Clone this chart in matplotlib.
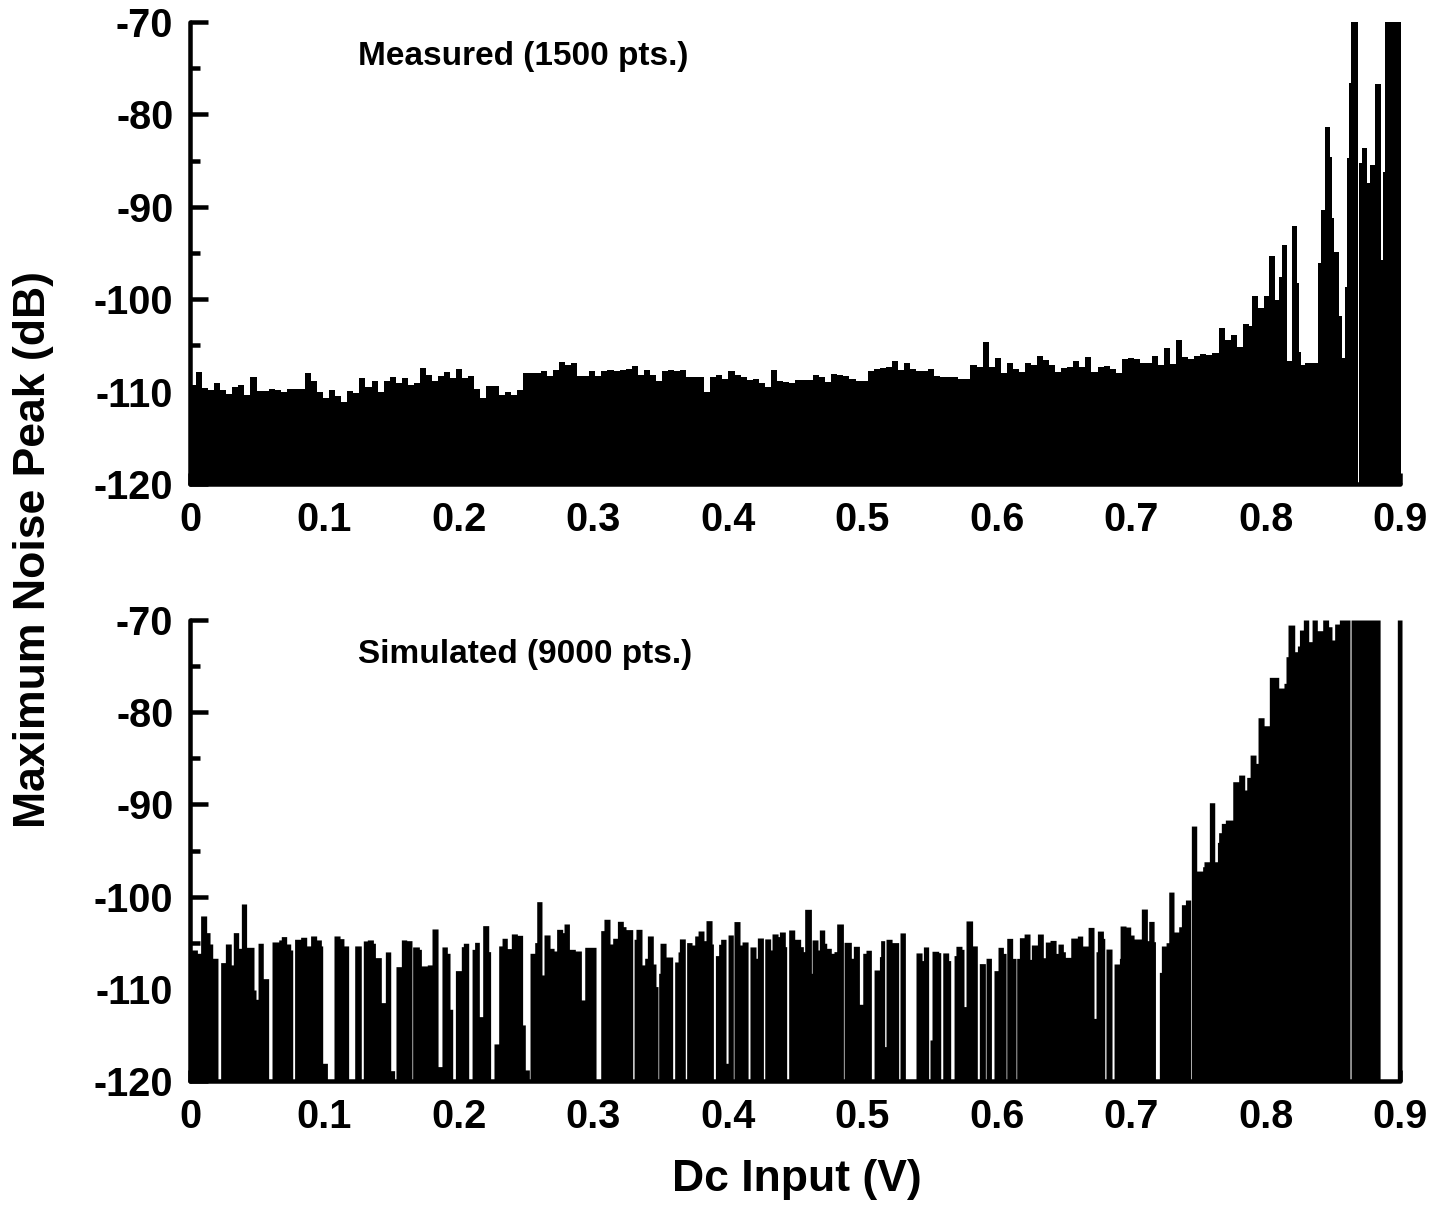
import numpy as np
import matplotlib
matplotlib.use('Agg')
import matplotlib.pyplot as plt
from matplotlib.ticker import MultipleLocator

plt.rcParams['font.family'] = ['Liberation Sans', 'DejaVu Sans']
plt.rcParams['font.weight'] = 'bold'

FLOOR = -120

x_ticks = [0, 0.1, 0.2, 0.3, 0.4, 0.5, 0.6, 0.7, 0.8, 0.9]
x_labels = ['0', '0.1', '0.2', '0.3', '0.4', '0.5', '0.6', '0.7', '0.8', '0.9']
y_ticks = [-120, -110, -100, -90, -80, -70]
y_labels = ['-120', '-110', '-100', '-90', '-80', '-70']

# measured peaks below 0.78 V, one every 4.5 mV
meas_step = 0.0045
meas_low = [
    -109.3, -107.9, -109.6, -109.8, -109.1, -109.8, -110.3, -109.5, -109.3, -110.4,
    -108.4, -109.9, -109.9, -109.7, -109.8, -110.0, -109.7, -109.7, -109.7, -108.0,
    -108.9, -110.0, -110.7, -109.8, -110.5, -111.1, -109.9, -110.2, -108.5, -109.5,
    -108.9, -110.0, -108.85, -108.4, -109.1, -108.5, -109.3, -109.1, -107.4, -108.2,
    -108.9, -108.3, -107.9, -108.5, -107.6, -108.5, -108.3, -109.7, -110.7, -109.4,
    -109.4, -110.4, -110.0, -110.4, -109.8, -108.0, -108.0, -108.0, -107.8, -108.3,
    -107.7, -106.8, -107.1, -106.9, -108.3, -108.3, -107.8, -108.3,
    -107.8, -107.65, -107.8, -107.65, -107.5, -107.2, -108.2, -107.65, -108.2, -108.8,
    -107.8, -107.65, -107.8, -107.65, -108.4, -108.4, -108.4, -110.0, -108.4, -108.2,
    -108.6, -107.8, -108.2, -108.4, -108.7, -108.6, -109.1, -109.5, -107.65, -108.9,
    -109.0, -109.1, -108.7, -108.7, -108.7, -108.2, -108.4, -109.0, -108.1, -108.2,
    -108.3, -108.6, -108.9, -108.8, -107.8, -107.5, -107.4, -107.3, -106.7, -107.65,
    -106.9, -107.5, -107.8, -107.8, -107.5, -108.3, -108.4, -108.4, -108.4, -108.6,
    -108.6, -107.15, -107.3, -104.6, -107.3, -106.4, -108.0, -106.9,
    -107.6, -107.9, -106.94, -107.1, -106.15, -106.58, -107.16, -107.84, -107.4, -107.3,
    -106.69, -107.3, -106.3, -107.84, -107.37, -107.23, -107.6, -108.02, -106.5, -106.36,
    -106.5, -106.94, -106.87, -106.2, -107.1, -105.28, -107.0, -104.4, -106.3, -106.5,
    -106.2, -105.93, -106.0, -105.8, -103.15, -104.4, -103.87, -105.14,
]

# measured peaks above 0.78 V
meas_high_x = [
    0.7835, 0.7880, 0.7899, 0.7944, 0.7989, 0.8028, 0.8073, 0.8098, 0.8123, 0.8162,
    0.8197, 0.8237, 0.8247, 0.8262, 0.8291, 0.8390, 0.8415, 0.8440, 0.8480, 0.8495,
    0.8509, 0.8549, 0.8569, 0.8589, 0.8604, 0.8624, 0.8638, 0.8687, 0.8693, 0.8718,
    0.8757, 0.8777, 0.8812, 0.8856, 0.8871, 0.8891, 0.9010,
]
meas_high = [
    -102.68, -102.9, -99.65, -100.9, -99.6, -95.3, -100.1, -97.56, -94.1, -106.65,
    -92.08, -98.28, -105.7, -107.1, -106.87, -96.1, -90.4, -81.4, -84.57, -91.25,
    -94.93, -101.8, -106.36, -98.64, -84.75, -76.64, -70.0, -120.0, -85.3, -83.67,
    -87.46, -85.47, -76.7, -95.76, -86.2, -70.0, -70.0,
]

# simulated peaks, start of each step and its level
sim_x_a = [
    0.0, 0.0055, 0.0079, 0.0124, 0.0149, 0.0169, 0.0208, 0.0228, 0.0263, 0.0307,
    0.0322, 0.0362, 0.0382, 0.0421, 0.0476, 0.0491, 0.0506, 0.0545, 0.0585, 0.0610,
    0.0660, 0.0679, 0.0719, 0.0749, 0.0764, 0.0778, 0.0823, 0.0868, 0.0897, 0.0942,
    0.0977, 0.0987, 0.1022, 0.1071, 0.1116, 0.1145, 0.1180, 0.1225, 0.1274, 0.1289,
    0.1319, 0.1364, 0.1379, 0.1423, 0.1453, 0.1493, 0.1522, 0.1532, 0.1572, 0.1612,
    0.1651, 0.1656, 0.1706, 0.1721, 0.1765, 0.1800, 0.1845, 0.1874, 0.1914, 0.1934,
    0.1954, 0.1974, 0.2018, 0.2033, 0.2073, 0.2098, 0.2117, 0.2152, 0.2177, 0.2222,
    0.2236, 0.2261, 0.2296, 0.2321, 0.2360, 0.2390, 0.2435, 0.2474, 0.2494, 0.2524,
    0.2529, 0.2564, 0.2579, 0.2618, 0.2633, 0.2678, 0.2708, 0.2727, 0.2772, 0.2782,
    0.2822, 0.2866, 0.2911, 0.2936,
]
sim_a = [
    -105.79, -106.15, -102.10, -103.91, -105.14, -106.69, -120, -107.16, -105.14, -107.41,
    -103.91, -105.61, -100.80, -105.50, -110.13, -111.14, -105.06, -108.90, -120, -104.92,
    -104.70, -104.34, -105.14, -105.79, -120, -104.63, -104.41, -105.35, -104.27, -104.70,
    -105.35, -118.08, -120, -104.27, -104.56, -105.35, -120, -105.35, -120, -104.81,
    -104.70, -105.06, -106.62, -111.50, -106.0, -118.88, -120, -107.6, -104.70, -104.78,
    -120, -105.46, -105.72, -107.52, -107.41, -103.51, -118.44, -105.46, -106.15, -112.22,
    -120, -108.03, -105.43, -105.06, -120, -105.72, -104.96, -113.02, -103.15, -105.97,
    -120, -115.98, -105.35, -104.52, -105.64, -104.05, -104.2, -113.92, -118.8, -120,
    -106.15, -104.99, -100.55, -108.5, -104.16, -105.61, -105.9, -103.55, -103.91, -102.97,
    -105.72, -105.9, -111.21, -105.50,
]
sim_x_b = [
    0.3020, 0.3055, 0.3079, 0.3124, 0.3144, 0.3179, 0.3223, 0.3243, 0.3293, 0.3303,
    0.3317, 0.3362, 0.3382, 0.3402, 0.3446, 0.3466, 0.3481, 0.3486, 0.3496, 0.3541,
    0.3590, 0.3605, 0.3630, 0.3640, 0.3684, 0.3694, 0.3734, 0.3754, 0.3779, 0.3823,
    0.3838, 0.3883, 0.3893, 0.3908, 0.3932, 0.3947, 0.3987, 0.4002, 0.4041, 0.4046,
    0.4091, 0.4106, 0.4151, 0.4165, 0.4210, 0.4220, 0.4265, 0.4275, 0.4319, 0.4329,
    0.4374, 0.4384, 0.4428, 0.4438, 0.4453, 0.4498, 0.4542, 0.4562, 0.4572, 0.4622,
    0.4627, 0.4671, 0.4681, 0.4721, 0.4736, 0.4770, 0.4790, 0.4810, 0.4860, 0.4865,
    0.4919, 0.4934, 0.4979, 0.5004, 0.5028, 0.5068, 0.5088, 0.5128, 0.5137, 0.5167,
    0.5177, 0.5222, 0.5271, 0.5281, 0.5321, 0.5400, 0.5445, 0.5455, 0.5494, 0.5504,
    0.5519, 0.5569, 0.5584, 0.5599, 0.5643, 0.5658, 0.5683, 0.5697, 0.5742, 0.5757,
    0.5772, 0.5821, 0.5856, 0.5871, 0.5916, 0.5921, 0.5961, 0.5980, 0.6010,
]
sim_b = [
    -120, -103.69, -102.46, -105.14, -104.52, -102.68, -103.26, -103.58, -120, -104.63,
    -103.55, -107.41, -106.69, -104.27, -107.31, -109.76, -120, -108.32, -105.06, -106.55,
    -120, -107.09, -106.0, -104.59, -120, -104.99, -105.25, -104.27, -103.73, -104.78,
    -102.61, -105.14, -120, -106.4, -105.17, -104.63, -118.08, -104.16, -120, -102.71,
    -105.25, -104.92, -120, -105.46, -106.69, -104.49, -120, -104.59, -105.79, -104.05,
    -104.34, -103.84, -105.43, -120, -103.62, -104.63, -105.43, -105.97, -101.38, -108.32,
    -104.70, -105.79, -103.62, -105.06, -105.61, -106.15, -105.97, -102.97, -120, -104.96,
    -106.69, -105.39, -111.68, -106.15, -105.82, -120, -107.96, -106.51, -104.78, -116.27,
    -104.63, -104.99, -120, -103.94, -120, -106.11, -106.94, -105.46, -120, -115.55,
    -105.93, -106.08, -120, -106.11, -106.94, -120, -106.4, -105.39, -105.72, -111.93,
    -102.64, -105.35, -120, -107.27, -120, -106.69, -120, -108.03, -105.50,
]
sim_x_c = [
    0.6050, 0.6070, 0.6075, 0.6119, 0.6144, 0.6149, 0.6169, 0.6204, 0.6248, 0.6258,
    0.6303, 0.6347, 0.6362, 0.6397, 0.6442, 0.6456, 0.6496, 0.6511, 0.6551, 0.6600,
    0.6640, 0.6680, 0.6724, 0.6739, 0.6749, 0.6794, 0.6804, 0.6813, 0.6858, 0.6873,
    0.6913, 0.6918, 0.6962, 0.6997, 0.7022, 0.7076, 0.7121, 0.7131, 0.7171, 0.7181,
    0.7210, 0.7225, 0.7260, 0.7280, 0.7319, 0.7354, 0.7374, 0.7404, 0.7443, 0.7448,
    0.7488, 0.7532, 0.7542, 0.7582, 0.7622, 0.7642, 0.7651, 0.7671, 0.7701, 0.7756,
    0.7800, 0.7845, 0.7860, 0.7885, 0.7929, 0.7944, 0.7989, 0.8028, 0.8098, 0.8137,
    0.8152, 0.8167, 0.8217, 0.8237, 0.8252, 0.8281, 0.8321, 0.8346, 0.8385, 0.8425,
    0.8469, 0.8494, 0.8514, 0.8549, 0.8628, 0.8636, 0.8852, 0.8980, 0.9015,
]
sim_c = [
    -106.16, -120, -104.53, -106.70, -120, -106.70, -104.46, -104.06, -106.81, -105.25,
    -104.06, -106.63, -104.93, -104.75, -106.16, -105.15, -105.98, -106.59, -104.50, -104.28,
    -105.36, -103.34, -113.21, -105.98, -103.74, -104.53, -120, -105.69, -120, -107.31,
    -106.70, -103.19, -103.30, -104.17, -104.60, -101.35, -104.78, -102.69, -104.89, -120,
    -108.22, -105.36, -105.0, -99.51, -103.84, -103.27, -100.88, -100.37, -120, -92.35,
    -97.23, -96.76, -96.22, -89.82, -96.22, -94.12, -93.07, -92.06, -91.70, -87.54,
    -86.82, -88.44, -87.07, -84.65, -85.55, -80.60, -81.47, -76.22, -77.38, -76.87,
    -73.98, -70.55, -73.44, -72.82, -71.09, -70.0, -72.35, -70.0, -71.16, -70.0,
    -70.73, -72.17, -70.44, -70.0, -120, -70.0, -120, -70.0, -70.0,
]

meas_x = np.concatenate([np.arange(len(meas_low)) * meas_step, meas_high_x])
meas_y = np.concatenate([meas_low, meas_high])
sim_x = np.concatenate([sim_x_a, sim_x_b, sim_x_c])
sim_y = np.concatenate([sim_a, sim_b, sim_c])

W, H = 1437, 1215
fig = plt.figure(figsize=(W / 100, H / 100), dpi=100)
lw = 4.5 * 72 / 100


def make_axes(top_px, bottom_px, x, y, note, note_y):
    ax = fig.add_axes([190 / W, 1 - bottom_px / H, 1210 / W, (bottom_px - top_px) / H])
    ax.fill_between(x, y, FLOOR, step='post', color='black', linewidth=0, clip_on=False)
    ax.set_xlim(0, 0.9)
    ax.set_ylim(-120, -70)
    ax.set_xticks(x_ticks)
    ax.set_xticklabels(x_labels)
    ax.set_yticks(y_ticks)
    ax.set_yticklabels(y_labels)
    ax.yaxis.set_minor_locator(MultipleLocator(5))
    ax.tick_params(axis='y', which='major', direction='in', length=13, width=lw,
                   labelsize=28.5, pad=12)
    ax.tick_params(axis='y', which='minor', direction='in', length=7, width=lw)
    ax.tick_params(axis='x', which='major', direction='in', length=8, width=lw,
                   labelsize=28.5, pad=12)
    ax.spines['top'].set_visible(False)
    ax.spines['right'].set_visible(False)
    ax.spines['left'].set_linewidth(lw)
    ax.spines['bottom'].set_linewidth(lw)
    ax.spines['left'].set_capstyle('round')
    ax.spines['bottom'].set_capstyle('round')
    fig.text(358 / W, 1 - note_y / H, note, fontsize=24, fontweight='bold', va='center')
    return ax


make_axes(22, 484, meas_x, meas_y, 'Measured (1500 pts.)', 56)
make_axes(620, 1081, sim_x, sim_y, 'Simulated (9000 pts.)', 654)

fig.text(34 / W, 1 - 550 / H, 'Maximum Noise Peak (dB)', rotation=90, fontsize=32,
         fontweight='bold', ha='center', va='center')
fig.text(797 / W, 1 - 1180 / H, 'Dc Input (V)', fontsize=32, fontweight='bold',
         ha='center', va='center')

fig.savefig('out.png', dpi=100, facecolor='white')
